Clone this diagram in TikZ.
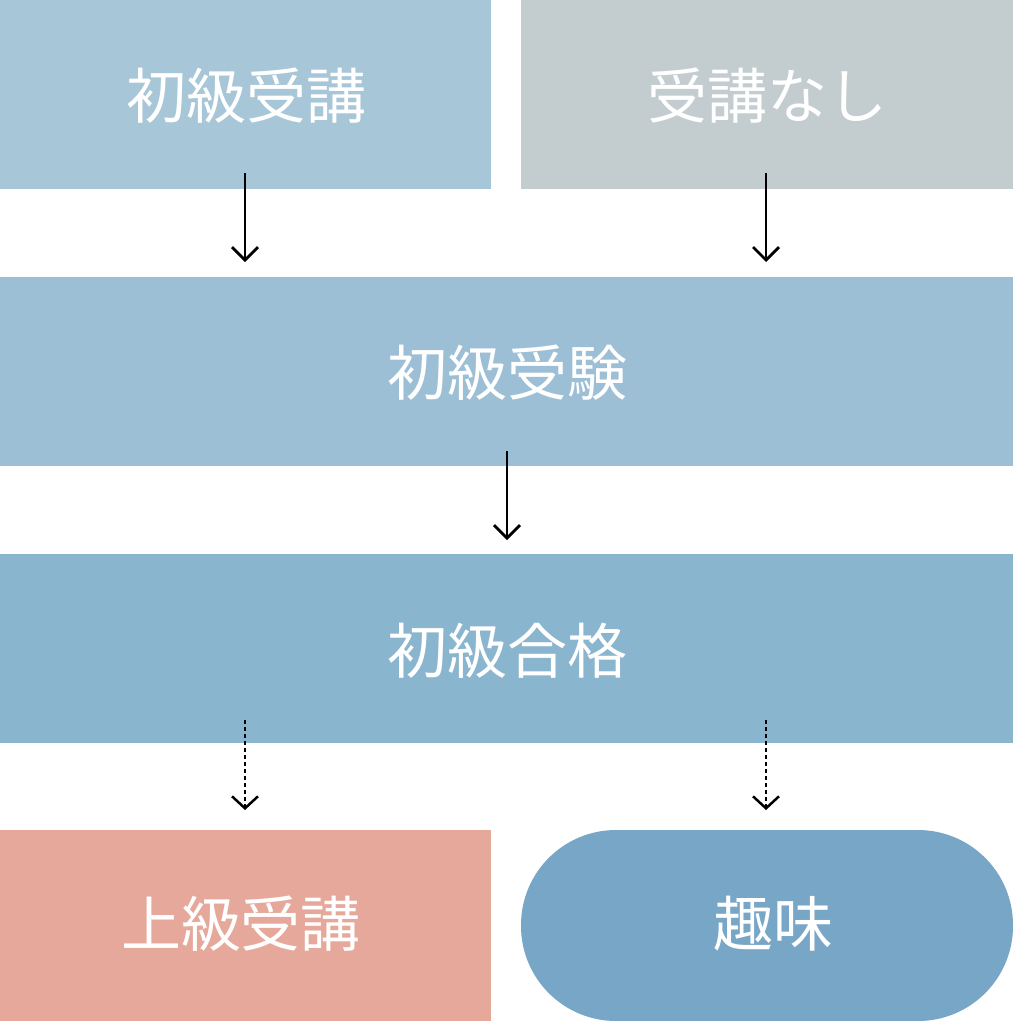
\documentclass[tikz,border=0pt]{standalone}
\usepackage{fontspec}
\newfontfamily\cjk{Noto Sans CJK JP}
\usetikzlibrary{arrows.meta}
\definecolor{cA}{HTML}{A7C6D8}
\definecolor{cB}{HTML}{C3CCCF}
\definecolor{cC}{HTML}{9CBFD6}
\definecolor{cD}{HTML}{8AB5CE}
\definecolor{cE}{HTML}{E5A89A}
\definecolor{cF}{HTML}{78A6C6}
\begin{document}
\begin{tikzpicture}[x=1pt,y=-1pt,
  lbl/.style={text=white,font=\cjk\fontsize{60}{60}\selectfont},
  arr/.style={-{Straight Barb[length=13pt,width=26pt,line width=2.8pt]},line width=2.8pt,black},
  darr/.style={-{Straight Barb[length=12pt,width=26pt,line width=2.5pt]},line width=2pt,dash pattern=on 4pt off 3pt,black}]
\useasboundingbox (0,0) rectangle (1013,1021);
\fill[cA] (0,0) rectangle (491,189);
\fill[cB] (521,0) rectangle (1013,189);
\fill[cC] (0,277) rectangle (1013,466);
\fill[cD] (0,554) rectangle (1013,743);
\fill[cE] (0,830) rectangle (491,1021);
\fill[cF,rounded corners=95pt] (521,830) rectangle (1013,1021);
\node[lbl] (n1) at (246,96) {初級受講};
\node[lbl] (n2) at (767,96) {受講なし};
\node[lbl] (n3) at (507,373) {初級受験};
\node[lbl] (n4) at (507,651) {初級合格};
\node[lbl] (n5) at (241,924) {上級受講};
\node[lbl] (n6) at (773,924) {趣味};
\coordinate (a1) at (245,173); \coordinate (b1) at (245,262);
\coordinate (a2) at (766,173); \coordinate (b2) at (766,262);
\coordinate (a3) at (507,451); \coordinate (b3) at (507,540);
\coordinate (a4) at (245,720); \coordinate (b4) at (245,810);
\coordinate (a5) at (766,720); \coordinate (b5) at (766,810);
\draw[arr] (a1) -- (b1);
\draw[arr] (a2) -- (b2);
\draw[arr] (a3) -- (b3);
\draw[darr] (a4) -- (b4);
\draw[darr] (a5) -- (b5);
\end{tikzpicture}
\end{document}
